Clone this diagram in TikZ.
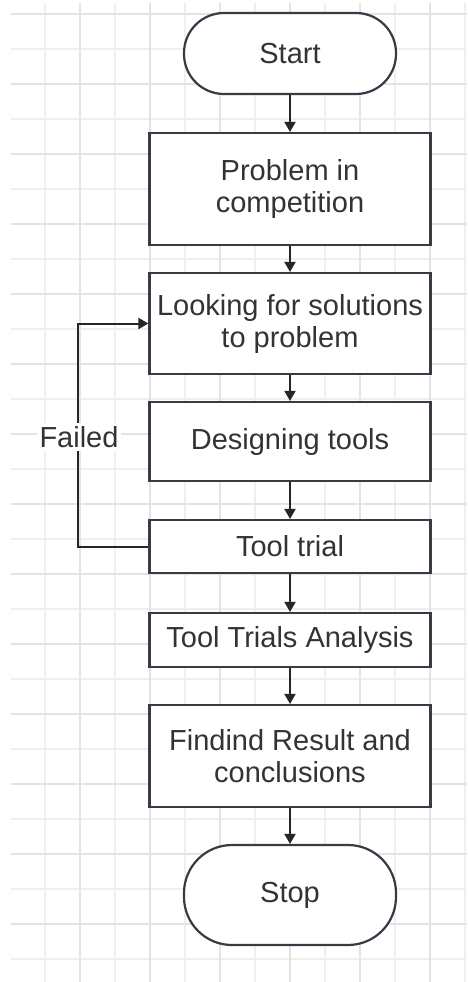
\documentclass[tikz,border=0pt]{standalone}
\usepackage{fontspec}
\setmainfont{Liberation Sans}
\usetikzlibrary{arrows.meta}
\definecolor{gridminor}{HTML}{EFEFEF}
\definecolor{gridmajor}{HTML}{E3E3E3}
\definecolor{boxline}{HTML}{3A3A46}
\definecolor{txt}{HTML}{333333}
\definecolor{arrowc}{HTML}{262626}
\begin{document}
\begin{tikzpicture}[x=1pt,y=-1pt,
  box/.style={draw=boxline,line width=2.2pt,fill=white,inner sep=0pt,minimum width=281pt,align=center,text=txt,font=\fontsize{29}{32}\selectfont},
  term/.style={box,minimum width=212pt},
  flow/.style={draw=arrowc,line width=2pt,-{Triangle[length=10pt,width=11pt]}},
  gminor/.style={draw=gridminor,line width=2pt},
  gmajor/.style={draw=gridmajor,line width=2pt}]
\useasboundingbox (0,0) rectangle (467,982);
\fill[white] (0,0) rectangle (467,982);
% grid
\foreach \x in {45,115,...,465} \draw[gminor] (\x,3) -- (\x,982);
\foreach \y in {49,119,...,959} \draw[gminor] (11,\y) -- (467,\y);
\foreach \x in {80,150,...,430} \draw[gmajor] (\x,3) -- (\x,982);
\foreach \y in {14,84,...,924} \draw[gmajor] (11,\y) -- (467,\y);
% nodes
\node[term,rounded corners=40pt,minimum height=81pt] (start) at (290,53.5) {Start};
\node[box,minimum height=112pt] (prob) at (290,189) {Problem in\\competition};
\node[box,minimum height=101pt] (look) at (290,323.5) {Looking for solutions\\to problem};
\node[box,minimum height=79pt] (design) at (290,441.5) {Designing tools};
\node[box,minimum height=53pt] (trial) at (290,546.5) {Tool trial};
\node[box,minimum height=54pt] (anal) at (290,640) {Tool Trials Analysis};
\node[box,minimum height=102pt] (find) at (290,756) {Findind Result and\\conclusions};
\node[term,rounded corners=48pt,minimum height=100pt] (stop) at (290,895) {Stop};
% connectors
\draw[flow] (start) -- (prob);
\draw[flow] (prob) -- (look);
\draw[flow] (look) -- (design);
\draw[flow] (design) -- (trial);
\draw[flow] (trial) -- (anal);
\draw[flow] (anal) -- (find);
\draw[flow] (find) -- (stop);
\draw[flow] (trial.west) -- ++(-70,0) |- (look.west);
\node[fill=white,text=txt,inner sep=3pt,font=\fontsize{29}{32}\selectfont] (failed) at (79,437) {Failed};
\end{tikzpicture}
\end{document}
